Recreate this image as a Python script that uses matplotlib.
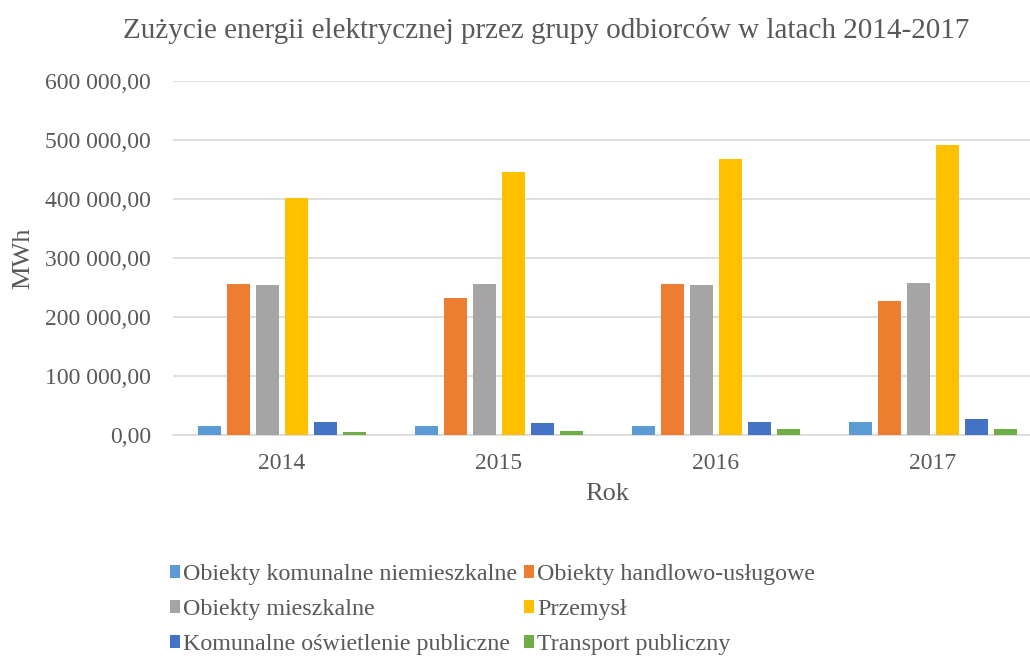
import matplotlib
matplotlib.use("Agg")
import matplotlib.pyplot as plt
from matplotlib.ticker import FuncFormatter
from matplotlib.patches import Patch
import numpy as np

plt.rcParams['font.family'] = ['Liberation Serif', 'DejaVu Serif']

years = ["2014", "2015", "2016", "2017"]
series_names = [
    "Obiekty komunalne niemieszkalne",
    "Obiekty handlowo-usługowe",
    "Obiekty mieszkalne",
    "Przemysł",
    "Komunalne oświetlenie publiczne",
    "Transport publiczny",
]
komunalne_niemieszkalne = [14000, 13600, 15000, 20500]
handlowo_uslugowe = [256000, 231000, 256000, 226500]
mieszkalne = [253700, 255000, 254000, 257700]
przemysl = [401000, 446000, 467000, 492000]
oswietlenie = [22000, 20000, 21500, 26000]
transport = [4000, 6800, 9000, 9000]

series = [komunalne_niemieszkalne, handlowo_uslugowe, mieszkalne,
          przemysl, oswietlenie, transport]
colors = ["#5B9BD5", "#ED7D31", "#A5A5A5", "#FFC000", "#4472C4", "#70AD47"]

text_col = "#595959"

fig = plt.figure(figsize=(10.3, 6.65), dpi=100)
# plot area runs slightly past the right edge, like the cropped original
ax = fig.add_axes([0.1684, 0.3466, 0.8427, 0.5316])

x = np.arange(len(years))
step = 0.1336
width = 0.106
for i, (vals, col) in enumerate(zip(series, colors)):
    ax.bar(x + (i - 2.5) * step, vals, width=width, color=col, zorder=3)

ax.set_xlim(-0.5, 3.5)
ax.set_ylim(0, 600000)
ax.set_yticks(np.arange(0, 600001, 100000))
ax.yaxis.set_major_formatter(FuncFormatter(
    lambda v, p: f"{v:,.2f}".replace(",", " ").replace(".", ",")))
ax.set_xticks(x)
ax.set_xticklabels(years)

ax.grid(axis="y", color="#d9d9d9", linewidth=1.2, zorder=0)
for s in ["top", "right", "left"]:
    ax.spines[s].set_visible(False)
ax.spines["bottom"].set_color("#d9d9d9")
ax.spines["bottom"].set_linewidth(1.2)
ax.tick_params(axis="both", length=0, labelsize=17, colors=text_col)
ax.tick_params(axis="y", pad=16)
ax.tick_params(axis="x", pad=13)

ax.set_xlabel("Rok", fontsize=19, color=text_col, labelpad=6.5)
ax.set_ylabel("MWh", fontsize=19, color=text_col, labelpad=8)

fig.text(546 / 1030, 1 - 31 / 665,
         "Zużycie energii elektrycznej przez grupy odbiorców w latach 2014-2017",
         ha="center", va="center", fontsize=21, color=text_col)

handles = [Patch(facecolor=c) for c in colors]
order = [0, 2, 4, 1, 3, 5]
fig.legend([handles[k] for k in order], [series_names[k] for k in order],
           ncol=2, loc="upper left", bbox_to_anchor=(170 / 1030, 1 - 564 / 665),
           frameon=False, fontsize=17.3, labelcolor=text_col,
           handlelength=0.42, handleheight=0.42, handletextpad=0.12,
           columnspacing=0.3, labelspacing=0.58, borderaxespad=0, borderpad=0)

fig.savefig("out.png", dpi=100)
